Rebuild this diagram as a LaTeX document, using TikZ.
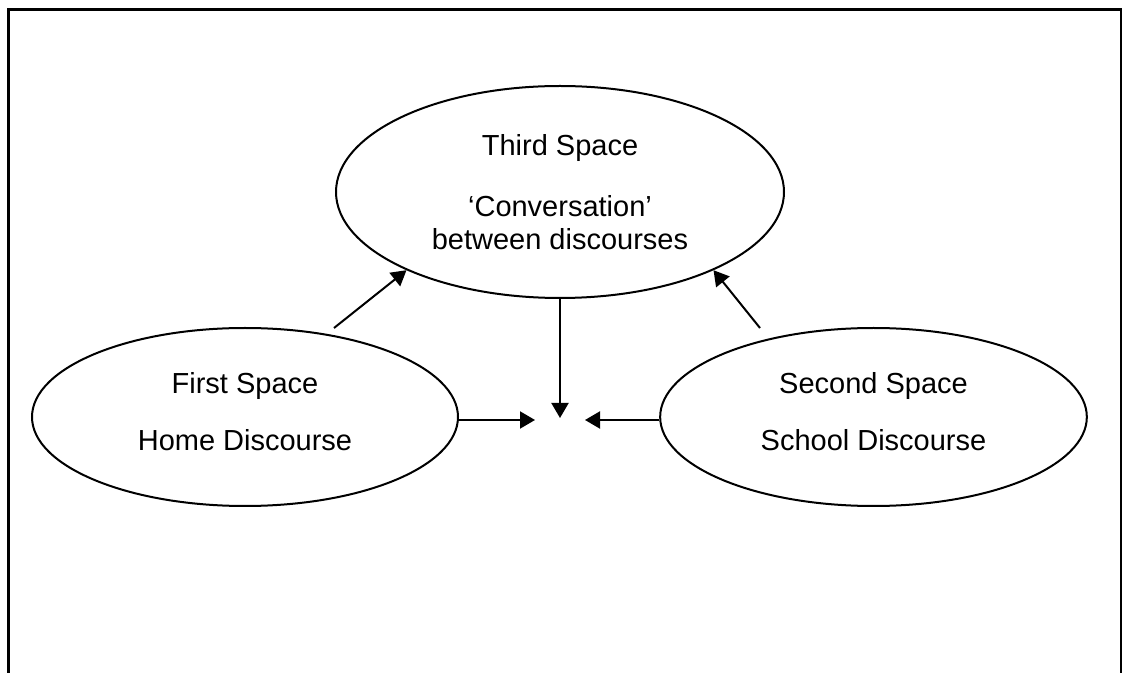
\documentclass[tikz,border=0pt]{standalone}
\usepackage{fontspec}
\setmainfont{Liberation Sans}
\usepackage{tikz}
\usetikzlibrary{calc}
\usetikzlibrary{shapes.geometric,arrows.meta}

\begin{document}
\begin{tikzpicture}
    [
        x=0.75pt, y=-0.75pt,
        ruang/.style={draw, ellipse, line width=1.5pt, inner sep=0pt, align=center,
            font=\fontsize{21.75}{24.75}\selectfont},
        panah/.style={line width=1.5pt, -{Triangle[width=12.75pt,length=11.25pt]}}
    ]
        %BATAS
        \useasboundingbox (0,0) rectangle (1122,673);

        %BINGKAI
        \draw[line width=2.25pt] (8,673) -- (8,10) -- (1121,10) -- (1121,673);

        %RUANG
        \node[ruang, minimum width=336pt, minimum height=159pt] (third) at (560,192)
            {Third Space\\[21pt]‘Conversation’\\between discourses};
        \node[ruang, minimum width=319.5pt, minimum height=133.5pt, text depth=9pt] (first) at (245,417)
            {First Space\\[18pt]Home Discourse};
        \node[ruang, minimum width=320pt, minimum height=133.5pt, text depth=9pt] (second) at (873.5,417)
            {Second Space\\[18pt]School Discourse};

        %TITIK
        \coordinate (meet) at (560,420);
        \coordinate (tail1) at (334,328);
        \coordinate (tail2) at (760,328);

        %PANAH
        \draw[panah] (tail1) -- (third.207);
        \draw[panah] (tail2) -- (third.333);
        \draw[panah] (third.south) -- ($(meet)+(0,-2)$);
        \draw[panah] (first.east |- meet) -- ($(meet)+(-25,0)$);
        \draw[panah] (second.west |- meet) -- ($(meet)+(25,0)$);
    \end{tikzpicture}
\end{document}
